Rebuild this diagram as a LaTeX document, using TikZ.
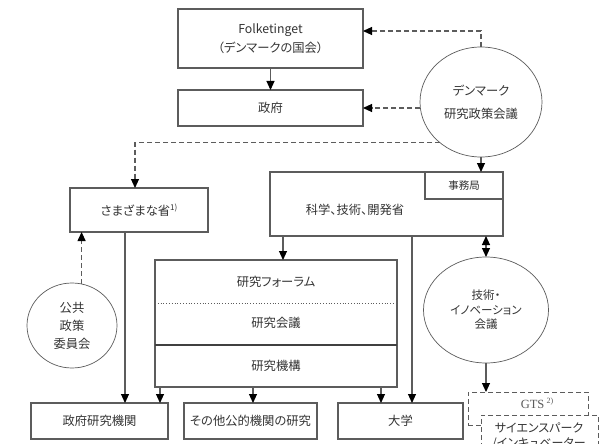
\documentclass[tikz,border=0pt]{standalone}
\usepackage{fontspec}
\setmainfont{Noto Sans CJK JP}[RawFeature=+palt]
\newfontfamily\serif{Liberation Serif}
\usetikzlibrary{arrows.meta,shapes.geometric,calc}
\definecolor{ln}{HTML}{5C5C5C}
\definecolor{tx}{HTML}{333333}
\begin{document}
\begin{tikzpicture}[x=1pt,y=-1pt,
  box/.style={draw=ln,line width=1.1pt,rectangle,inner sep=0pt,outer sep=0pt,text=tx,font=\fontsize{12.3}{14}\selectfont,align=center},
  circ/.style={draw=ln,line width=0.7pt,ellipse,inner sep=0pt,outer sep=0pt,text=tx,align=center},
  lbl/.style={text=tx,inner sep=0pt,font=\fontsize{12.3}{14}\selectfont,align=center},
  tip/.tip={Triangle[width=8pt,length=9pt,color=black]},
  arr/.style={draw=ln,line width=1.1pt,-tip},
  darr/.style={arr,dash pattern=on 5pt off 3pt},
  dbox/.style={draw=ln,line width=1pt,dash pattern=on 5pt off 3pt,rectangle,inner sep=0pt,outer sep=0pt,fill=white}
]
\useasboundingbox (0,0) rectangle (608,444);
\clip (0,0) rectangle (608,444);
\fill[white] (0,0) rectangle (608,444);

% boxes
\node[box,minimum width=185,minimum height=59,font=\fontsize{12.3}{19}\selectfont] (folk) at (270.5,38.5) {Folketinget\\（デンマークの国会）};
\node[box,minimum width=185,minimum height=36] (gov) at (270.5,108) {政府};
\node[circ,minimum width=122,minimum height=110,font=\fontsize{12.3}{23}\selectfont] (dnk) at (481,102) {デンマーク\\研究政策会議};
\node[box,minimum width=138,minimum height=44] (min) at (139,210) {さまざまな省\raisebox{5pt}{\fontsize{8}{9}\selectfont 1)}};
\node[box,minimum width=233,minimum height=64] (sci) at (386.5,204) {};
\node[box,minimum width=78,minimum height=27,font=\fontsize{10.5}{12}\selectfont] (jimu) at (464,185.5) {事務局};
\node[lbl] (scit) at (355,210) {科学、技術、開発省};

\node[box,minimum width=242,minimum height=127] (stack) at (276,323.5) {};
\node[lbl] (forum) at (276,282) {研究フォーラム};
\node[lbl] (council) at (276,323) {研究会議};
\node[lbl] (agency) at (276,366) {研究機構};
\draw[ln,line width=0.8pt,dotted] ($(stack.north west)+(0,43)$) -- ($(stack.north east)+(0,43)$);
\draw[black!75,line width=1.4pt] ($(stack.north west)+(0,85)$) -- ($(stack.north east)+(0,85)$);

\node[circ,minimum width=125,minimum height=106,font=\fontsize{11.5}{14.5}\selectfont] (tech) at (486,310) {技術・\\イノベーション\\会議};
\node[circ,minimum width=90,minimum height=85,font=\fontsize{12.3}{18}\selectfont] (pub) at (72,325.5) {公共\\政策\\委員会};

\node[box,minimum width=137,minimum height=36] (gri) at (99.5,421) {政府研究機関};
\node[box,minimum width=133,minimum height=36] (other) at (250.5,421) {その他公的機関の研究};
\node[box,minimum width=125,minimum height=36] (univ) at (400.5,421) {大学};

\node[dbox,minimum width=120,minimum height=33] (gts) at (528,408.5) {};
\node[lbl,font=\serif\fontsize{12.5}{14}\selectfont,text=ln] (gtst) at (537,403) {GTS\,\raisebox{5pt}{\fontsize{8}{9}\selectfont 2)}};
\node[dbox,minimum width=117,minimum height=50] (sp) at (539.5,440) {};
\node[lbl,font=\fontsize{12}{15}\selectfont] (spt) at (539,436.5) {サイエンスパーク\\/インキュベーター};

% connectors
\draw[arr] (folk.south) -- (gov.north);
\draw[darr] (dnk.north) |- ([yshift=7.5pt]folk.east);
\draw[darr] (gov.east -| dnk.west) -- (gov.east);
\draw[darr] (dnk.225) -| ([xshift=-4pt]min.north);
\draw[arr] (dnk.south) -- (dnk.south |- sci.north);
\draw[arr] ([xshift=13pt]sci.south west) -- ([xshift=13pt]sci.south west |- stack.north);
\draw[arr] ([xshift=142pt]sci.south west) -- ([xshift=142pt]sci.south west |- univ.north);
\draw[draw=ln,line width=1.1pt,tip-tip] (tech.north |- sci.south) -- (tech.north);
\draw[arr] ([xshift=5pt]stack.south west) -- ([xshift=5pt]stack.south west |- gri.north);
\draw[arr] ([xshift=98pt]stack.south west) -- ([xshift=98pt]stack.south west |- other.north);
\draw[arr] ([xshift=226pt]stack.south west) -- ([xshift=226pt]stack.south west |- univ.north);
\draw[arr] ([xshift=55pt]min.south west) -- ([xshift=55pt]min.south west |- gri.north);
\draw[darr] (pub.77) -- (pub.77 |- min.south);
\draw[arr] (tech.south) -- (tech.south |- gts.north);
\end{tikzpicture}
\end{document}
